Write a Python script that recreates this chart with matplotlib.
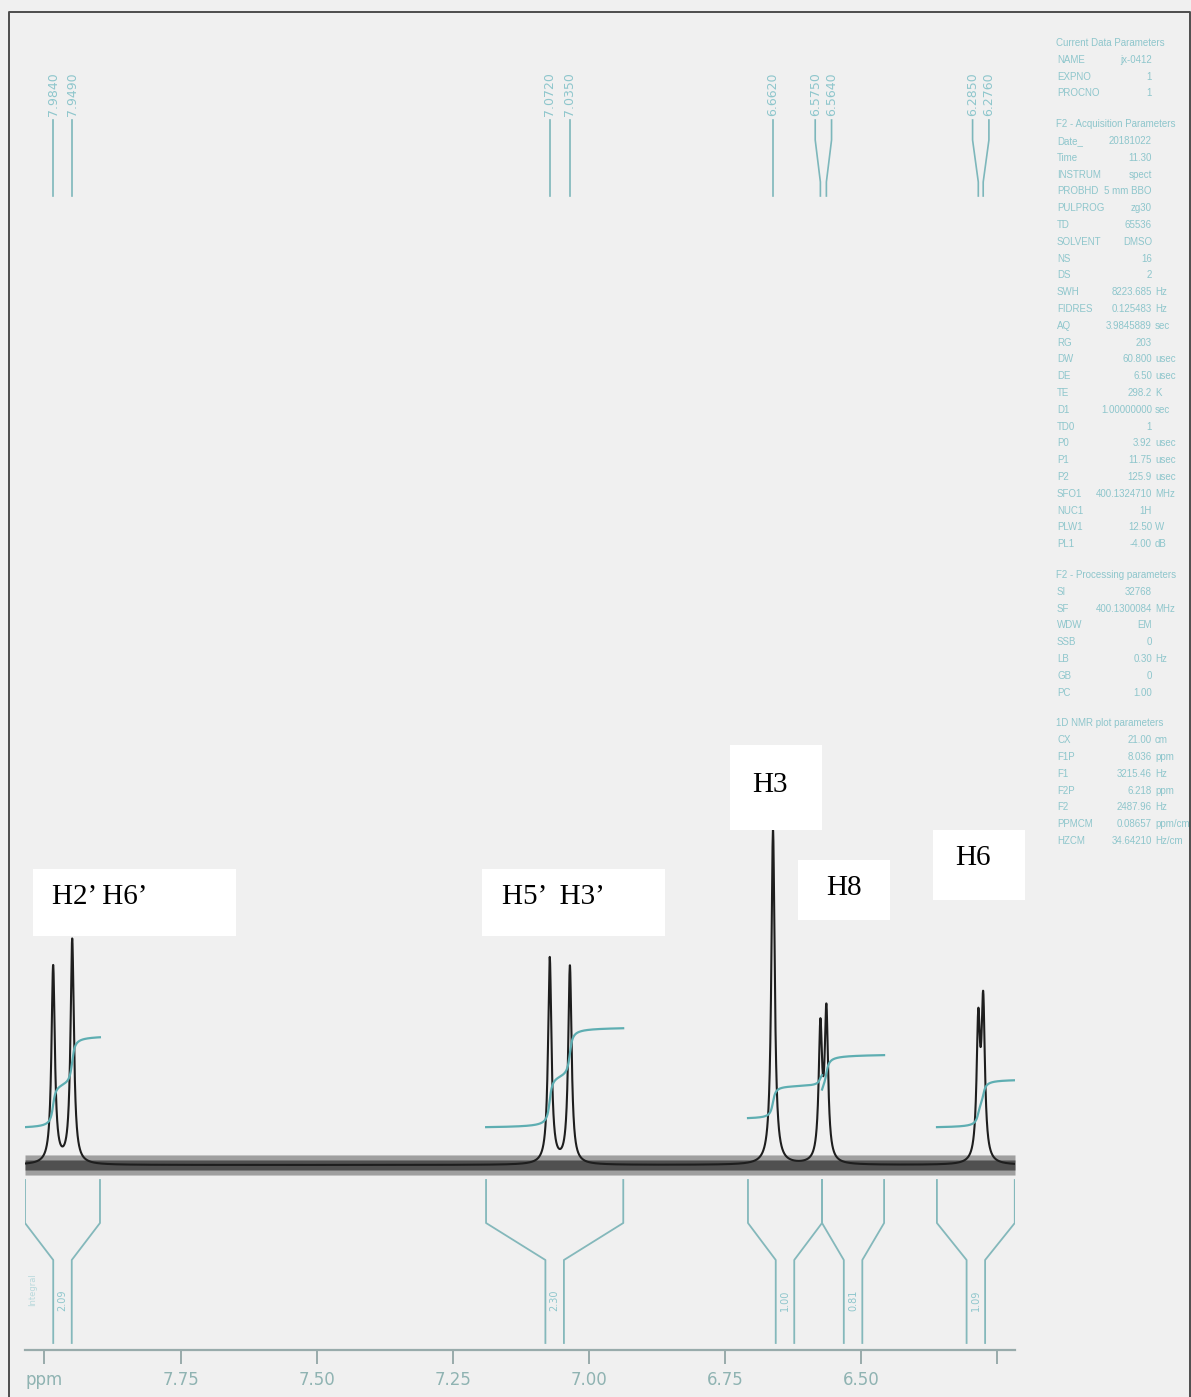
import numpy as np
import matplotlib
matplotlib.use("Agg")
import matplotlib.pyplot as plt
from matplotlib.patches import Rectangle
from matplotlib.lines import Line2D

# ---------------- data ----------------
# picked lines: chemical shift (ppm) and relative height (H3 singlet = 1)
peak_ppm = [7.984, 7.949, 7.072, 7.035, 6.662, 6.575, 6.564, 6.285, 6.276]
peak_height = [0.59, 0.67, 0.615, 0.59, 1.00, 0.39, 0.44, 0.40, 0.46]
peak_group = [0, 0, 1, 1, 2, 3, 3, 4, 4]
line_fwhm = 0.0075          # ppm
noise_level = 0.03          # half height of the baseline noise band

# proton assignments
assign_text = ["H2\u2019 H6\u2019", "H5\u2019  H3\u2019", "H3", "H8", "H6"]

# integration regions (ppm) and integral values
int_left = [8.0357, 7.189, 6.708, 6.572, 6.361]
int_right = [7.898, 6.937, 6.572, 6.458, 6.218]
int_value = [2.09, 2.30, 1.00, 0.81, 1.09]
int_offset = [0.113, 0.113, 0.140, 0.224, 0.113]

# x axis
x_ticks = [8.00, 7.75, 7.50, 7.25, 7.00, 6.75, 6.50, 6.25]
x_ticklabels = ["ppm", "7.75", "7.50", "7.25", "7.00", "6.75", "6.50", ""]
x_range = (8.0357, 6.2176)

# acquisition / processing parameter listing
param_sections = [
    ("Current Data Parameters", [
        ("NAME", "jx-0412", ""), ("EXPNO", "1", ""), ("PROCNO", "1", "")]),
    ("F2 - Acquisition Parameters", [
        ("Date_", "20181022", ""), ("Time", "11.30", ""),
        ("INSTRUM", "spect", ""), ("PROBHD", "5 mm BBO", ""),
        ("PULPROG", "zg30", ""), ("TD", "65536", ""),
        ("SOLVENT", "DMSO", ""), ("NS", "16", ""), ("DS", "2", ""),
        ("SWH", "8223.685", "Hz"), ("FIDRES", "0.125483", "Hz"),
        ("AQ", "3.9845889", "sec"), ("RG", "203", ""),
        ("DW", "60.800", "usec"), ("DE", "6.50", "usec"),
        ("TE", "298.2", "K"), ("D1", "1.00000000", "sec"),
        ("TD0", "1", ""), ("P0", "3.92", "usec"), ("P1", "11.75", "usec"),
        ("P2", "125.9", "usec"), ("SFO1", "400.1324710", "MHz"),
        ("NUC1", "1H", ""), ("PLW1", "12.50", "W"), ("PL1", "-4.00", "dB")]),
    ("F2 - Processing parameters", [
        ("SI", "32768", ""), ("SF", "400.1300084", "MHz"),
        ("WDW", "EM", ""), ("SSB", "0", ""), ("LB", "0.30", "Hz"),
        ("GB", "0", ""), ("PC", "1.00", "")]),
    ("1D NMR plot parameters", [
        ("CX", "21.00", "cm"), ("F1P", "8.036", "ppm"),
        ("F1", "3215.46", "Hz"), ("F2P", "6.218", "ppm"),
        ("F2", "2487.96", "Hz"), ("PPMCM", "0.08657", "ppm/cm"),
        ("HZCM", "34.64210", "Hz/cm")]),
]

# ---------------- figure ----------------
W, H, DPI = 1191, 1397, 100
BG = "#f0f0f0"
TEAL = "#5eaeb2"
TEAL_LIGHT = "#8ec6cc"
BRACKET = "#84b8bb"
AXIS = "#98abab"

fig = plt.figure(figsize=(W / DPI, H / DPI), dpi=DPI, facecolor=BG)


def fx(px):
    return px / W


def fy(py):
    return 1 - py / H


BASE_PX, UNIT_PX = 1165, 335.0


def yd(py):
    return (BASE_PX - py) / UNIT_PX


ax = fig.add_axes([fx(25), fy(1350), (1015 - 25) / W, (1350 - 12) / H])
ax.set_facecolor("none")
ax.set_xlim(*x_range)
ax.set_ylim(yd(1350), yd(12))
for s in ("top", "left", "right"):
    ax.spines[s].set_visible(False)
ax.spines["bottom"].set_color(AXIS)
ax.spines["bottom"].set_linewidth(1.6)
ax.set_yticks([])
ax.set_xticks(x_ticks)
ax.set_xticklabels(x_ticklabels)
ax.tick_params(axis="x", direction="out", length=10, width=1.4, color=AXIS,
               labelcolor="#8fb3b2", labelsize=12, pad=5)

# spectrum trace
x = np.linspace(x_range[0], x_range[1], 8000)
spec = np.zeros_like(x)
for p, h in zip(peak_ppm, peak_height):
    spec += h / (1 + (2 * (x - p) / line_fwhm) ** 2)

# baseline noise envelope
ax.fill_between(x, -noise_level, noise_level, color="#262626", alpha=0.4,
                lw=0, zorder=2)
ax.fill_between(x, -noise_level * 0.5, noise_level * 0.5, color="#262626",
                alpha=0.65, lw=0, zorder=2)
ax.plot(x, spec, color="#1e1e1e", lw=1.5, zorder=3)

# integral curves and brackets
half = 0.017
y_top, y_sh, y_neck, y_bot = yd(1180), yd(1223), yd(1260), yd(1343)
for L, R, v, off in zip(int_left, int_right, int_value, int_offset):
    m = (x <= L) & (x >= R)
    xs = x[m]
    cum = np.cumsum(spec[m])
    cum = cum / cum[-1]
    ax.plot(xs, off + v * (43 / UNIT_PX) * cum, color=TEAL, lw=1.6, zorder=4)
    c = (L + R) / 2
    ax.add_line(Line2D([L, L, c + half, c + half], [y_top, y_sh, y_neck, y_bot],
                       color=BRACKET, lw=1.3))
    ax.add_line(Line2D([R, R, c - half, c - half], [y_top, y_sh, y_neck, y_bot],
                       color=BRACKET, lw=1.3))
    ax.text(c, yd(1300), f"{v:.2f}", rotation=90, ha="center", va="center",
            fontsize=7, color=TEAL_LIGHT)
ax.text(8.021, yd(1290), "Integral", rotation=90, ha="center", va="center",
        fontsize=6, color="#b9d9dc")

# peak-pick labels along the top
label_pos = list(peak_ppm)
min_sep = 0.03
for g in sorted(set(peak_group)):
    idx = [i for i, k in enumerate(peak_group) if k == g]
    if len(idx) == 2:
        a, b = idx
        if abs(peak_ppm[a] - peak_ppm[b]) < min_sep:
            c = (peak_ppm[a] + peak_ppm[b]) / 2
            label_pos[a] = c + min_sep / 2
            label_pos[b] = c - min_sep / 2
for p, lp in zip(peak_ppm, label_pos):
    ax.add_line(Line2D([lp, lp, p, p], [yd(120), yd(140), yd(182), yd(196)],
                       color="#7db7bb", lw=1.2))
    ax.text(lp, yd(116), f"{p:.4f}", rotation=90, ha="center", va="bottom",
            fontsize=9, color=TEAL_LIGHT)

# assignment boxes
boxes = [(33, 869, 236, 936, 52), (482, 869, 665, 936, 502),
         (730, 745, 822, 830, 752), (798, 860, 890, 920, 826),
         (933, 830, 1025, 900, 955)]
text_y = [897, 897, 785, 888, 858]
for (x0, y0, x1, y1, tx), ty, t in zip(boxes, text_y, assign_text):
    fig.add_artist(Rectangle((fx(x0), fy(y1)), fx(x1) - fx(x0), fy(y0) - fy(y1),
                             transform=fig.transFigure, facecolor="white",
                             edgecolor="none", zorder=5))
    fig.text(fx(tx), fy(ty), t, ha="left", va="center", fontsize=21,
             family="Liberation Serif", color="black", zorder=6)

# parameter listing on the right
pfam = "Liberation Sans"
psize = 7
py = 43
for si, (title, rows) in enumerate(param_sections):
    fig.text(fx(1056), fy(py), title, ha="left", va="center", fontsize=psize,
             color=TEAL_LIGHT, family=pfam)
    py += 16.8
    for name, val, unit in rows:
        fig.text(fx(1057), fy(py), name, ha="left", va="center", fontsize=psize,
                 color=TEAL_LIGHT, family=pfam)
        fig.text(fx(1152), fy(py), val, ha="right", va="center", fontsize=psize,
                 color=TEAL_LIGHT, family=pfam)
        if unit:
            fig.text(fx(1155), fy(py), unit, ha="left", va="center",
                     fontsize=psize, color=TEAL_LIGHT, family=pfam)
        py += 16.8
    py += 14

# outer frame
fig.add_artist(Line2D([fx(9), fx(9), fx(1190), fx(1190)],
                      [fy(1397), fy(12), fy(12), fy(1397)],
                      transform=fig.transFigure, color="#4d4d4d", lw=1.4))

fig.savefig("out.png", dpi=DPI, facecolor=BG)
